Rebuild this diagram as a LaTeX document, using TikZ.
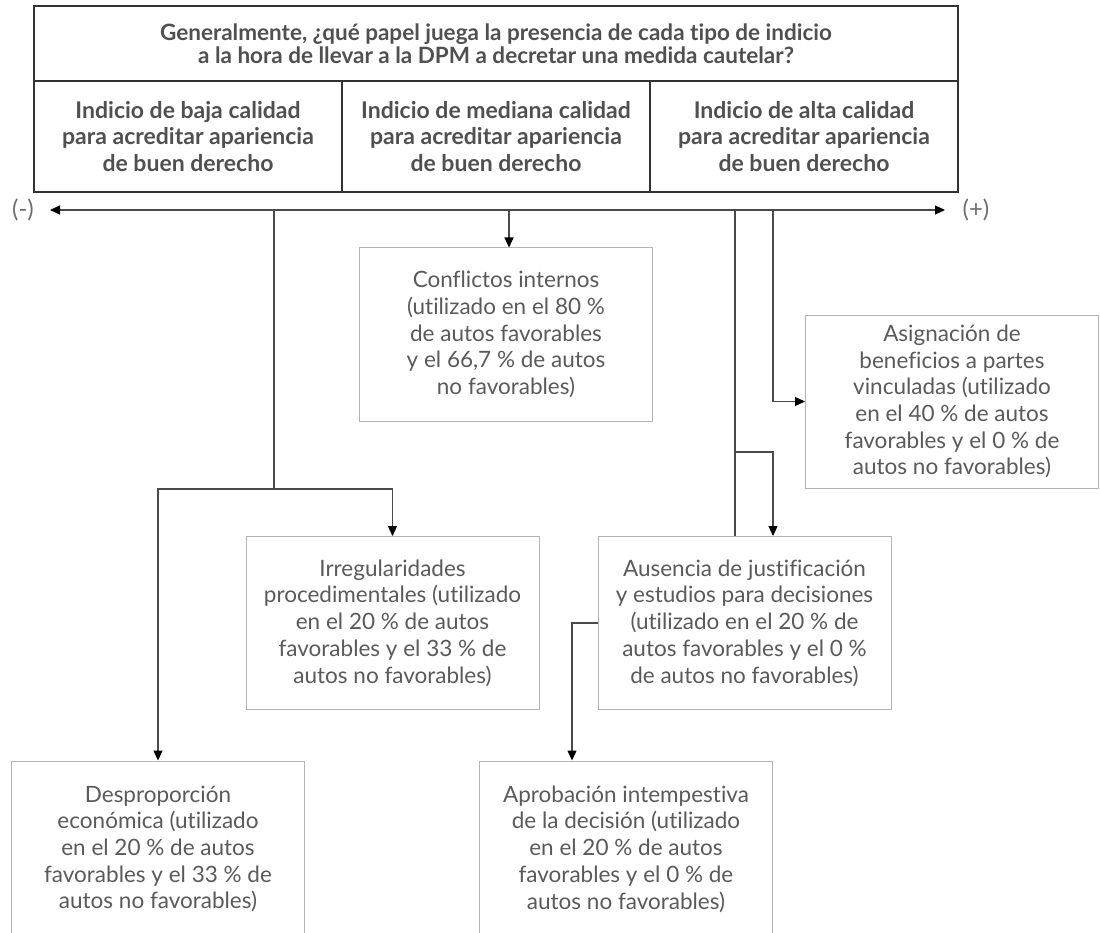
\documentclass[tikz,border=0pt]{standalone}
\usepackage{fontspec}
\setmainfont[Ligatures=NoCommon]{Lato}
\usetikzlibrary{arrows.meta}
\definecolor{txtgray}{HTML}{5A5A5A}
\definecolor{hdrtxt}{HTML}{505050}
\definecolor{boxgray}{HTML}{B4B4B4}
\definecolor{linegray}{HTML}{4A4A4A}
\definecolor{hdrline}{HTML}{333333}
\definecolor{signgray}{HTML}{6E6E6E}
\begin{document}
\begin{tikzpicture}[x=1pt,y=-1pt,
  conn/.style={draw=linegray, line width=1.2pt},
  arr/.style={conn, -{Triangle[length=10pt,width=9pt,black]}},
  dblarr/.style={conn, {Triangle[length=10pt,width=9pt,black]}-{Triangle[length=10pt,width=9pt,black]}},
  box/.style={draw=boxgray, line width=1pt, text=txtgray, align=center,
    minimum width=293pt, minimum height=173pt, inner sep=0pt,
    font=\fontsize{22.5}{26.7}\selectfont},
  hdr/.style={draw=hdrline, line width=1.4pt, text=hdrtxt, align=center,
    inner sep=0pt, font=\bfseries\fontsize{23}{26.7}\selectfont},
  sign/.style={text=signgray, font=\fontsize{24}{26}\selectfont, inner sep=0pt}
]
\useasboundingbox (0,0) rectangle (1100,933);

% header
\node[hdr, minimum width=924pt, minimum height=75pt, font=\bfseries\fontsize{22.5}{23}\selectfont] (title) at (496,43.5)
  {Generalmente, ¿qué papel juega la presencia de cada tipo de indicio\\a la hora de llevar a la DPM a decretar una medida cautelar?};
\node[hdr, minimum width=308pt, minimum height=111pt] (c1) at (188,136.5)
  {Indicio de baja calidad\\para acreditar apariencia\\de buen derecho};
\node[hdr, minimum width=308pt, minimum height=111pt] (c2) at (496,136.5)
  {Indicio de mediana calidad\\para acreditar apariencia\\de buen derecho};
\node[hdr, minimum width=308pt, minimum height=111pt] (c3) at (804,136.5)
  {Indicio de alta calidad\\para acreditar apariencia\\de buen derecho};

% axis
\coordinate (axL) at (50,210);
\coordinate (axR) at (945,210);
\node[sign] (minus) at (23,210) {(-)};
\node[sign] (plus) at (976,210) {(+)};
\draw[dblarr] (axL) -- (axR);

% boxes
\node[box] (conf) at (506,334.5)
  {Conflictos internos\\(utilizado en el 80 \%\\de autos favorables\\y el 66,7 \% de autos\\no favorables)};
\node[box] (asig) at (952,401.5)
  {Asignación de\\beneficios a partes\\vinculadas (utilizado\\en el 40 \% de autos\\favorables y el 0 \% de\\autos no favorables)};
\node[box] (irr) at (392.5,623)
  {Irregularidades\\procedimentales (utilizado\\en el 20 \% de autos\\favorables y el 33 \% de\\autos no favorables)};
\node[box] (aus) at (744.5,623)
  {Ausencia de justificación\\y estudios para decisiones\\(utilizado en el 20 \% de\\autos favorables y el 0 \%\\de autos no favorables)};
\node[box, minimum height=176pt] (desp) at (158,849)
  {Desproporción\\económica (utilizado\\en el 20 \% de autos\\favorables y el 33 \% de\\autos no favorables)};
\node[box, minimum height=176pt] (aprob) at (626,849)
  {Aprobación intempestiva\\de la decisión (utilizado\\en el 20 \% de autos\\favorables y el 0 \% de\\autos no favorables)};

% connectors
\coordinate (a1) at (274,210);
\coordinate (a2) at (509,210);
\coordinate (a3) at (735,210);
\coordinate (a4) at (773,210);
\coordinate (jL) at (274,489);
\coordinate (jR) at (735,452);
\coordinate (jA) at (572,623);

\draw[conn] (a1) -- (jL);
\draw[arr] (jL) -| (desp.north);
\draw[arr] (jL) -| (irr.north);
\draw[arr] (a2) -- (a2 |- conf.north);
\draw[arr] (a4) |- (asig.west);
\draw[conn] (a3) -- (a3 |- aus.north);
\draw[arr] (jR) -| (a4 |- aus.north);
\draw[arr] (aus.west) -- (jA) -- (jA |- aprob.north);
\end{tikzpicture}
\end{document}
